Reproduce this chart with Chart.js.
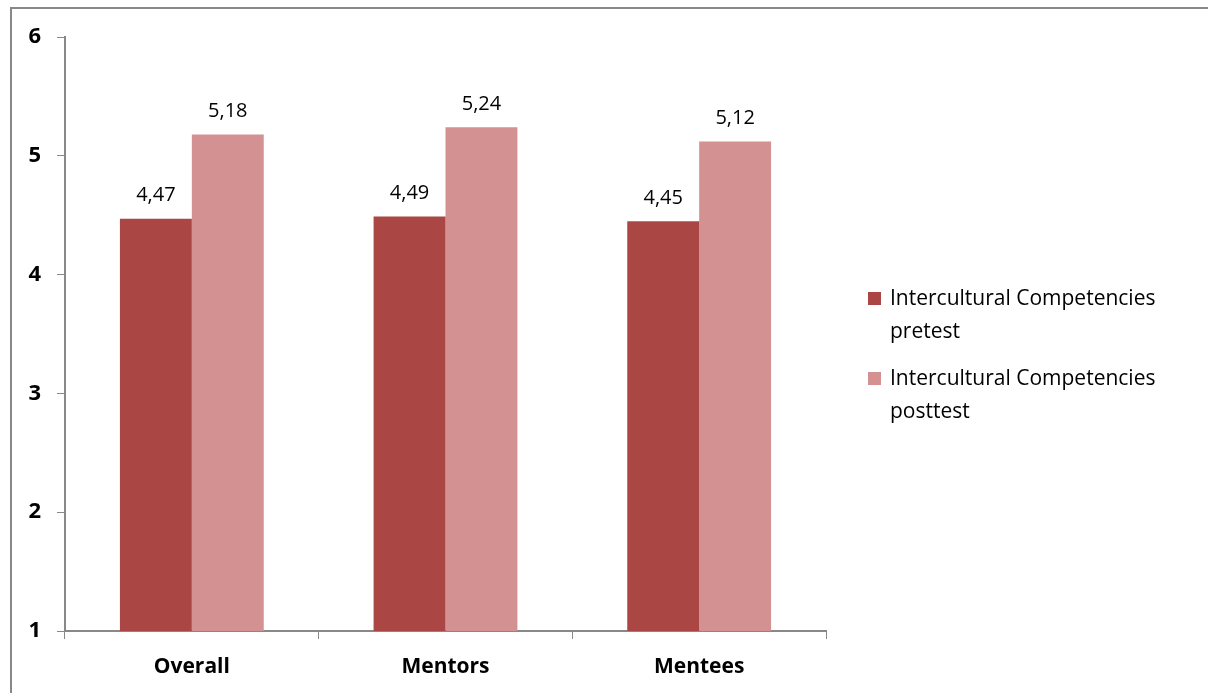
<!DOCTYPE html>
<html>
<head>
<meta charset="utf-8">
<script src="https://cdn.jsdelivr.net/npm/chart.js@4/dist/chart.umd.min.js"></script>
<style>
  html, body { margin: 0; padding: 0; background: #fff; }
  #wrap { position: relative; width: 1208px; height: 693px; }
  #frame { position: absolute; left: 10px; top: 7px; width: 1300px; height: 800px;
           border-left: 2px solid #888; border-top: 2px solid #888; box-sizing: border-box; }
  #legend { position: absolute; left: 868px; top: 281px; font-family: 'Open Sans', sans-serif;
            font-size: 21px; color: #000; line-height: 33px; }
  .item { display: flex; align-items: flex-start; margin-bottom: 14px; }
  .box { width: 13px; height: 13px; margin-top: 11px; margin-right: 9px; flex: none; }
</style>
</head>
<body>
<div id="wrap">
  <canvas id="chart" width="1208" height="693"></canvas>
  <div id="frame"></div>
  <div id="legend"></div>
</div>
<script>
// données
const categories = ['Overall', 'Mentors', 'Mentees'];
const pretest = [4.47, 4.49, 4.45];
const posttest = [5.18, 5.24, 5.12];
const seriesNames = [['Intercultural Competencies', 'pretest'], ['Intercultural Competencies', 'posttest']];
const seriesColors = ['#AA4744', '#D39291'];

const font = "'Open Sans', sans-serif";

// étiquettes de valeurs au-dessus des barres
const valueLabels = {
    id: 'valueLabels',
    afterDatasetsDraw(chart) {
        const ctx = chart.ctx;
        ctx.save();
        ctx.font = '20px ' + font;
        ctx.fillStyle = '#000';
        ctx.textAlign = 'center';
        ctx.textBaseline = 'bottom';
        chart.data.datasets.forEach((ds, i) => {
            chart.getDatasetMeta(i).data.forEach((bar, j) => {
                const txt = ds.data[j].toFixed(2).replace('.', ',');
                ctx.fillText(txt, bar.x, bar.y - 13);
            });
        });
        ctx.restore();
    }
};

const chart = new Chart(document.getElementById('chart'), {
    type: 'bar',
    data: {
        labels: categories,
        datasets: [
            { label: seriesNames[0].join(' '), data: pretest, backgroundColor: seriesColors[0] },
            { label: seriesNames[1].join(' '), data: posttest, backgroundColor: seriesColors[1] }
        ]
    },
    options: {
        responsive: false,
        animation: false,
        layout: { padding: { left: 10, top: 37, right: 382, bottom: 0 } },
        datasets: { bar: { categoryPercentage: 0.567, barPercentage: 1 } },
        scales: {
            x: {
                afterFit: s => { s.height = 62; },
                grid: { drawOnChartArea: false, offset: true, tickLength: 8, color: '#888' },
                border: { color: '#888', width: 2 },
                ticks: { color: '#000', font: { family: font, size: 21, weight: 'bold' }, padding: 15 }
            },
            y: {
                min: 1, max: 6,
                afterFit: s => { s.width = 55; },
                grid: { drawOnChartArea: false, tickLength: 8, color: '#888' },
                border: { color: '#888', width: 2 },
                ticks: { stepSize: 1, color: '#000', font: { family: font, size: 22, weight: 'bold' }, padding: 16 }
            }
        },
        plugins: {
            legend: { display: false },
            tooltip: { enabled: false }
        }
    },
    plugins: [valueLabels]
});

// légende HTML sur deux lignes
document.getElementById('legend').innerHTML = seriesNames.map((name, i) => `
    <div class="item">
        <div class="box" style="background:${seriesColors[i]}"></div>
        <div>${name.join('<br>')}</div>
    </div>`).join('');
</script>
</body>
</html>
